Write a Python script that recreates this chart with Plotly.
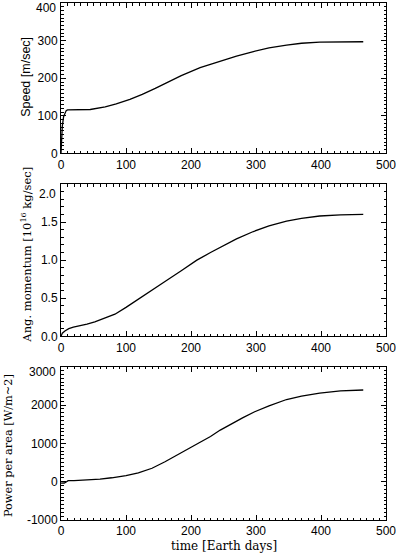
import plotly.graph_objects as go
from plotly.subplots import make_subplots

# time axis values (Earth days)
speed_days = [0, 1, 2, 4, 6, 8, 10, 13, 20, 30, 45, 68, 85, 106, 125, 145, 163, 185,
              214, 245, 270, 296, 320, 347, 370, 398, 430, 465]
speed = [0, 40, 72, 98, 109, 114, 116, 116, 115, 115, 117, 124, 132, 144, 157, 173, 188, 207,
         228, 245, 259, 271, 281, 288, 293, 296, 297, 297]

ang_days = [0, 2, 6, 12, 19, 30, 40, 52, 65, 83, 100, 119, 140, 160, 185, 209, 230, 245,
            270, 296, 320, 347, 370, 398, 430, 465]
ang_mom = [0.0, 0.04, 0.07, 0.10, 0.12, 0.14, 0.16, 0.19, 0.23, 0.29, 0.38, 0.49, 0.60,
           0.72, 0.86, 1.00, 1.10, 1.17, 1.28, 1.376, 1.45, 1.513, 1.55, 1.58, 1.595, 1.60]

power_days = [0, 5, 8, 11, 20, 42, 60, 78, 100, 119, 140, 160, 180, 196, 214, 230, 245,
              265, 280, 298, 320, 347, 370, 398, 430, 465]
power = [-40, -35, -10, 25, 30, 42, 65, 102, 160, 232, 350, 520, 700, 860, 1030, 1180, 1347,
         1538, 1670, 1825, 1980, 2144, 2230, 2313, 2370, 2392]

# y tick values per panel; the top label is drawn a little lower, inside the frame (IDL style)
speed_ticks = [0, 100, 200, 300, 400]
ang_ticks = [0.0, 0.5, 1.0, 1.5, 2.0]
power_ticks = [-1000, 0, 1000, 2000, 3000]

sans = "Liberation Sans"
serif = "DejaVu Serif"

fig = make_subplots(rows=3, cols=1, shared_xaxes=False, vertical_spacing=0.06)
for xs, ys, r in [(speed_days, speed, 1), (ang_days, ang_mom, 2), (power_days, power, 3)]:
    fig.add_trace(go.Scatter(x=xs, y=ys, mode="lines", line=dict(color="black", width=1.3)), r, 1)

domains = [[0.7089, 1.0], [0.3553, 0.6499], [0.0, 0.2965]]
yinfo = [
    (speed_ticks, 10, "{:.0f}", 5),
    (ang_ticks, 0.1, "{:.1f}", 10),
    (power_ticks, 100, "{:.0f}", 5),
]

axstyle = dict(showline=True, linecolor="black", linewidth=1, mirror="allticks",
               ticks="inside", ticklen=5, tickcolor="black", showgrid=False, zeroline=False,
               automargin=False, ticklabeloverflow="allow",
               tickfont=dict(family=sans, size=12, color="black"))

for i in range(3):
    tv, mdt, fmt, drop = yinfo[i]
    yname = "y" if i == 0 else "y%d" % (i + 1)
    fig.update_yaxes(row=i + 1, col=1, domain=domains[i], range=[tv[0], tv[-1]],
                     tickvals=tv, ticktext=[fmt.format(v) for v in tv[:-1]] + [""],
                     minor=dict(dtick=mdt, ticks="inside", ticklen=2.5, tickcolor="black"),
                     **axstyle)
    fig.update_xaxes(row=i + 1, col=1, range=[0, 500], dtick=100,
                     minor=dict(dtick=10, ticks="inside", ticklen=2.5, tickcolor="black"),
                     **axstyle)
    fig.add_annotation(text=fmt.format(tv[-1]), xref="paper", yref=yname, x=0, y=tv[-1],
                       xanchor="right", yanchor="middle", xshift=-3, yshift=-drop,
                       showarrow=False, font=dict(family=sans, size=12, color="black"))

# axis titles placed as annotations
titles = [
    ("Speed [m/sec]", -0.108, 0.857, sans, 12.5),
    ("Ang. momentum [10<sup>16</sup> kg/sec]", -0.105, 0.513, serif, 11.5),
    ("Power per area [W/m~2]", -0.163, 0.143, serif, 11.3),
]
for t, x, y, f, s in titles:
    fig.add_annotation(text=t, xref="paper", yref="paper", x=x, y=y, textangle=-90,
                       xanchor="center", yanchor="middle", showarrow=False,
                       font=dict(family=f, size=s, color="black"))
fig.add_annotation(text="time [Earth days]", xref="paper", yref="paper", x=0.5, y=-0.0503,
                   xanchor="center", yanchor="middle", showarrow=False,
                   font=dict(family=serif, size=12, color="black"))

fig.update_layout(width=396, height=554, margin=dict(l=61, r=10, t=3, b=34),
                  paper_bgcolor="white", plot_bgcolor="white", showlegend=False)

# the page body has a default 8px margin; drop it so the figure sits at the corner
fig.write_html("out.html", config={"displayModeBar": False},
               post_script="document.body.style.margin='0';")
